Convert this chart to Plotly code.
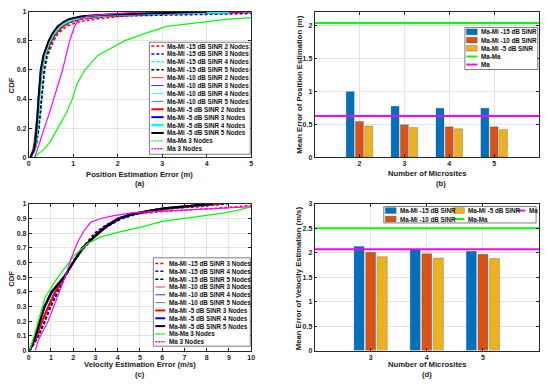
import plotly.graph_objects as go

W, H = 550, 386

# ---------------- (a) CDF of position estimation error ----------------
cdf_levels_a = [0, 0.05, 0.1, 0.2, 0.3, 0.4, 0.5, 0.6, 0.7, 0.8, 0.85, 0.9, 0.93, 0.95, 0.97, 0.98, 0.99, 1.0]
pos_m15_n2 = [0.05, 0.13, 0.17, 0.22, 0.26, 0.29, 0.32, 0.36, 0.43, 0.56, 0.66, 0.85, 1.1, 1.5, 2.1, 2.7, 3.8, 6.0]
pos_m15_n3 = [0.05, 0.13, 0.17, 0.22, 0.26, 0.29, 0.32, 0.36, 0.42, 0.54, 0.63, 0.78, 0.96, 1.2, 1.8, 3.5, 5.5, 7.0]
pos_m15_n4 = [0.05, 0.14, 0.18, 0.23, 0.26, 0.29, 0.32, 0.36, 0.42, 0.53, 0.62, 0.76, 0.92, 1.1, 1.6, 2.2, 3.3, 5.0]
pos_m15_n5 = [0.05, 0.14, 0.18, 0.23, 0.26, 0.29, 0.31, 0.35, 0.41, 0.52, 0.60, 0.74, 0.90, 1.05, 1.5, 2.1, 3.2, 4.8]
pos_m10_n2 = [0.05, 0.12, 0.15, 0.19, 0.22, 0.24, 0.27, 0.31, 0.38, 0.52, 0.62, 0.78, 0.95, 1.15, 1.7, 2.3, 3.4, 5.2]
pos_m10_n3 = [0.05, 0.12, 0.16, 0.19, 0.21, 0.24, 0.26, 0.30, 0.37, 0.50, 0.60, 0.74, 0.88, 1.05, 1.5, 2.0, 3.1, 4.6]
pos_m10_n4 = [0.05, 0.13, 0.16, 0.20, 0.22, 0.24, 0.27, 0.30, 0.37, 0.50, 0.59, 0.73, 0.87, 1.05, 1.45, 2.0, 3.0, 4.4]
pos_m10_n5 = [0.04, 0.12, 0.15, 0.19, 0.21, 0.23, 0.25, 0.29, 0.35, 0.47, 0.56, 0.70, 0.84, 0.98, 1.35, 1.9, 2.9, 4.3]
pos_m5_n2 = [0.04, 0.10, 0.13, 0.17, 0.20, 0.22, 0.25, 0.29, 0.36, 0.50, 0.60, 0.76, 0.90, 1.1, 1.6, 2.2, 3.2, 4.8]
pos_m5_n3 = [0.05, 0.12, 0.15, 0.185, 0.205, 0.225, 0.245, 0.28, 0.34, 0.46, 0.55, 0.68, 0.82, 0.95, 1.3, 1.8, 2.9, 4.2]
pos_m5_n4 = [0.05, 0.13, 0.16, 0.19, 0.21, 0.23, 0.25, 0.28, 0.35, 0.47, 0.56, 0.70, 0.85, 1.0, 1.4, 1.9, 3.0, 4.5]
pos_m5_n5 = [0.04, 0.12, 0.15, 0.18, 0.20, 0.22, 0.24, 0.27, 0.33, 0.45, 0.53, 0.65, 0.78, 0.90, 1.2, 1.7, 2.8, 4.0]
pos_mama_cdf = [0, 0.05, 0.1, 0.2, 0.3, 0.4, 0.5, 0.6, 0.7, 0.8, 0.85, 0.9, 0.93, 0.95, 0.96]
pos_mama_err = [0.12, 0.33, 0.47, 0.66, 0.84, 0.98, 1.08, 1.26, 1.55, 2.15, 2.6, 3.1, 3.95, 4.5, 5.0]
pos_ma_cdf = [0, 0.1, 0.2, 0.3, 0.4, 0.5, 0.6, 0.7, 0.8, 0.9, 0.95, 0.97, 0.98, 0.99, 1.0]
pos_ma_err = [0.14, 0.24, 0.35, 0.46, 0.56, 0.66, 0.76, 0.84, 0.92, 1.03, 1.14, 1.33, 1.6, 2.0, 2.6]

# ---------------- (b) mean position error ----------------
microsites_b = [2, 3, 4, 5]
pos_err_m15 = [0.99, 0.77, 0.74, 0.74]
pos_err_m10 = [0.54, 0.49, 0.46, 0.46]
pos_err_m5 = [0.47, 0.45, 0.43, 0.42]
pos_err_mama = 2.03
pos_err_ma = 0.625

# ---------------- (c) CDF of velocity estimation error ----------------
cdf_levels_c = [0, 0.1, 0.2, 0.3, 0.4, 0.5, 0.6, 0.7, 0.8, 0.85, 0.9, 0.93, 0.95, 0.97, 0.98, 0.99, 1.0]
vel_m15_n3 = [0.05, 0.42, 0.70, 0.95, 1.28, 1.60, 1.95, 2.40, 2.95, 3.40, 4.0, 4.7, 6.2, 8.5, 9.4, 10.2, 11.0]
vel_m15_n4 = [0.05, 0.45, 0.74, 1.00, 1.32, 1.63, 2.00, 2.50, 3.10, 3.60, 4.2, 4.9, 5.6, 6.6, 7.6, 8.4, 9.0]
vel_m15_n5 = [0.05, 0.44, 0.72, 0.98, 1.30, 1.62, 1.98, 2.45, 3.00, 3.45, 4.0, 4.6, 5.3, 6.1, 6.9, 7.6, 8.1]
vel_m10_n3 = [0.05, 0.38, 0.62, 0.90, 1.20, 1.60, 1.98, 2.45, 3.05, 3.45, 4.0, 4.8, 5.6, 6.5, 7.3, 8.0, 8.8]
vel_m10_n4 = [0.05, 0.36, 0.58, 0.85, 1.15, 1.58, 1.98, 2.45, 3.05, 3.45, 4.0, 4.7, 5.4, 6.3, 7.1, 7.9, 8.6]
vel_m10_n5 = [0.05, 0.32, 0.52, 0.75, 1.08, 1.58, 1.98, 2.40, 3.10, 3.50, 4.0, 4.6, 5.3, 6.2, 7.0, 7.8, 8.4]
vel_m5_n3 = [0.05, 0.36, 0.60, 0.88, 1.20, 1.60, 2.00, 2.45, 3.10, 3.50, 4.0, 4.7, 5.4, 6.4, 7.2, 8.0, 8.6]
vel_m5_n4 = [0.05, 0.31, 0.50, 0.72, 1.05, 1.58, 2.00, 2.42, 3.10, 3.50, 4.05, 4.6, 5.3, 6.1, 6.9, 7.7, 8.3]
vel_m5_n5 = [0.05, 0.30, 0.50, 0.70, 1.02, 1.58, 2.00, 2.40, 3.15, 3.55, 4.1, 4.7, 5.3, 6.1, 6.8, 7.5, 8.2]
vel_mama_cdf = [0, 0.1, 0.2, 0.36, 0.47, 0.56, 0.65, 0.73, 0.775, 0.81, 0.84, 0.88, 0.9, 0.92, 0.94, 0.96, 0.98]
vel_mama_err = [0.05, 0.25, 0.43, 0.73, 1.17, 1.61, 2.06, 2.65, 3.24, 4.13, 5.0, 6.0, 7.0, 8.0, 8.9, 9.5, 10.0]
vel_ma_cdf = [0, 0.07, 0.2, 0.38, 0.49, 0.63, 0.74, 0.82, 0.876, 0.9, 0.92, 0.94, 0.95, 0.96, 0.97, 0.98]
vel_ma_err = [0.3, 0.43, 0.87, 1.32, 1.61, 1.91, 2.2, 2.5, 2.8, 3.24, 3.84, 4.7, 5.9, 7.2, 8.6, 10.0]

# ---------------- (d) mean velocity error ----------------
microsites_d = [3, 4, 5]
vel_err_m15 = [2.13, 2.06, 2.03]
vel_err_m10 = [2.01, 1.98, 1.97]
vel_err_m5 = [1.92, 1.89, 1.88]
vel_err_mama = 2.5
vel_err_ma = 2.07

# ---------------- styling ----------------
FONT = "Liberation Sans"
AX = "#262626"
GRID = "#e3e3e3"
C_BLUE, C_ORANGE, C_YELLOW = "#0072BD", "#D95319", "#EDB120"
C_GREEN, C_MAG = "#00FF00", "#FF00FF"

def fx(p):
    return p / W

def fy(p):
    return 1 - p / H

STY = {
    "m15": dict(width=1.5, dash="3px,2px"),
    "m10": dict(width=0.8, dash="solid"),
    "m5": dict(width=2.0, dash="solid"),
}
NODE_COL = {2: "#FF0000", 3: "#0000FF", 4: "#00FFFF", 5: "#000000"}

fig = go.Figure()

def cdf_trace(x, y, color, width, dash, xa, ya):
    fig.add_trace(go.Scatter(x=x, y=y, mode="lines", xaxis=xa, yaxis=ya,
                             line=dict(color=color, width=width, dash=dash),
                             showlegend=False, hoverinfo="skip"))

legend_a = []
series_a = [("m15", 2, pos_m15_n2), ("m15", 3, pos_m15_n3), ("m15", 4, pos_m15_n4), ("m15", 5, pos_m15_n5),
            ("m10", 2, pos_m10_n2), ("m10", 3, pos_m10_n3), ("m10", 4, pos_m10_n4), ("m10", 5, pos_m10_n5),
            ("m5", 2, pos_m5_n2), ("m5", 3, pos_m5_n3), ("m5", 4, pos_m5_n4), ("m5", 5, pos_m5_n5)]
LBL = {"m15": "-15", "m10": "-10", "m5": "-5"}

def style_for(grp, n):
    col = NODE_COL[n]
    s = dict(STY[grp])
    if grp == "m10" and n == 5:
        col = "#555555"
    if grp == "m5" and n == 4:
        s["width"] = 2.6
    return col, s

for grp, n, xs in series_a:
    col, s = style_for(grp, n)
    cdf_trace(xs, cdf_levels_a, col, s["width"], s["dash"], "x", "y")
    legend_a.append(("Ma-Mi %s dB SINR %d Nodes" % (LBL[grp], n), col, s["width"], s["dash"]))
cdf_trace(pos_mama_err, pos_mama_cdf, C_GREEN, 1.2, "solid", "x", "y")
cdf_trace(pos_ma_err, pos_ma_cdf, C_MAG, 1.2, "solid", "x", "y")
legend_a += [("Ma-Ma 3 Nodes", C_GREEN, 1.4, "2px,1px"), ("Ma 3 Nodes", C_MAG, 1.4, "2px,1px")]

legend_c = []
series_c = [("m15", 3, vel_m15_n3), ("m15", 4, vel_m15_n4), ("m15", 5, vel_m15_n5),
            ("m10", 3, vel_m10_n3), ("m10", 4, vel_m10_n4), ("m10", 5, vel_m10_n5),
            ("m5", 3, vel_m5_n3), ("m5", 4, vel_m5_n4), ("m5", 5, vel_m5_n5)]
for grp, n, xs in series_c:
    col = {3: "#FF0000", 4: "#0000FF", 5: "#000000"}[n]
    if grp == "m10" and n == 5:
        col = "#555555"
    s = STY[grp]
    cdf_trace(xs, cdf_levels_c, col, s["width"], s["dash"], "x3", "y3")
    legend_c.append(("Ma-Mi %s dB SINR %d Nodes" % (LBL[grp], n), col, s["width"], s["dash"]))
cdf_trace(vel_mama_err, vel_mama_cdf, C_GREEN, 1.2, "solid", "x3", "y3")
cdf_trace(vel_ma_err, vel_ma_cdf, C_MAG, 1.2, "solid", "x3", "y3")
legend_c += [("Ma-Ma 3 Nodes", C_GREEN, 1.4, "2px,1px"), ("Ma 3 Nodes", C_MAG, 1.4, "2px,1px")]

# bars
def bars(xs, ys, col, xa, ya):
    fig.add_trace(go.Bar(x=xs, y=ys, xaxis=xa, yaxis=ya, marker=dict(color=col, line=dict(color="rgba(60,60,60,0.45)", width=0.6)),
                         showlegend=False, hoverinfo="skip"))

bars(microsites_b, pos_err_m15, C_BLUE, "x2", "y2")
bars(microsites_b, pos_err_m10, C_ORANGE, "x2", "y2")
bars(microsites_b, pos_err_m5, C_YELLOW, "x2", "y2")
bars(microsites_d, vel_err_m15, C_BLUE, "x4", "y4")
bars(microsites_d, vel_err_m10, C_ORANGE, "x4", "y4")
bars(microsites_d, vel_err_m5, C_YELLOW, "x4", "y4")

XR_B = [1, 6]
XR_D = [2, 6]
for v, col, xa, ya, xr in [(pos_err_mama, C_GREEN, "x2", "y2", XR_B), (pos_err_ma, C_MAG, "x2", "y2", XR_B),
                           (vel_err_mama, C_GREEN, "x4", "y4", XR_D), (vel_err_ma, C_MAG, "x4", "y4", XR_D)]:
    fig.add_trace(go.Scatter(x=xr, y=[v, v], mode="lines", xaxis=xa, yaxis=ya,
                             line=dict(color=col, width=2), showlegend=False, hoverinfo="skip"))

# axes
tickfont = dict(family=FONT, size=7.0, color=AX, weight="bold")

def axis(dom, rng, tickvals, anchor, ticktext=None):
    d = dict(domain=dom, range=rng, tickvals=tickvals, anchor=anchor, showline=True, linecolor=AX, linewidth=0.7,
             mirror="ticks", ticks="inside", ticklen=3, tickwidth=0.6, tickcolor=AX, showgrid=True,
             gridcolor=GRID, gridwidth=0.6, zeroline=False, tickfont=tickfont, fixedrange=True)
    if ticktext is not None:
        d["ticktext"] = ticktext
    return d

XL = [fx(27), fx(252)]
XRt = [fx(316), fx(543)]
YT = [fy(156), fy(8)]
YB = [fy(353), fy(203.5)]

fig.update_layout(
    xaxis=axis(XL, [0, 5], [0, 1, 2, 3, 4, 5], "y"),
    yaxis=axis(YT, [0, 1], [0, 0.2, 0.4, 0.6, 0.8, 1], "x", ["0", "0.2", "0.4", "0.6", "0.8", "1"]),
    xaxis2=axis(XRt, XR_B, microsites_b, "y2"),
    yaxis2=axis(YT, [0, 2.2], [0, 0.5, 1, 1.5, 2], "x2", ["0", "0.5", "1", "1.5", "2"]),
    xaxis3=axis(XL, [0, 10], list(range(11)), "y3"),
    yaxis3=axis(YB, [0, 1], [i / 10 for i in range(11)], "x3",
                ["0", "0.1", "0.2", "0.3", "0.4", "0.5", "0.6", "0.7", "0.8", "0.9", "1"]),
    xaxis4=axis(XRt, XR_D, microsites_d, "y4"),
    yaxis4=axis(YB, [0, 3], [0, 0.5, 1, 1.5, 2, 2.5, 3], "x4", ["0", "0.5", "1", "1.5", "2", "2.5", "3"]),
    barmode="group", bargap=0.38, bargroupgap=0.14,
    width=W, height=H, margin=dict(l=0, r=0, t=0, b=0),
    paper_bgcolor="white", plot_bgcolor="white", showlegend=False,
)

shapes = []
annots = []
LF = dict(family=FONT, size=6.3, color="#111111", weight="bold")
TF = dict(family=FONT, size=7.7, color="#222222", weight="bold")

def text(x, y, s, font, angle=0, xanchor="center"):
    annots.append(dict(x=fx(x), y=fy(y), xref="paper", yref="paper", text=s, showarrow=False,
                       font=font, textangle=angle, xanchor=xanchor, yanchor="middle"))

def box(x0, y0, x1, y1):
    shapes.append(dict(type="rect", xref="paper", yref="paper", x0=fx(x0), x1=fx(x1), y0=fy(y1), y1=fy(y0),
                       fillcolor="white", line=dict(color=AX, width=0.6), layer="above"))

def line_sample(x0, x1, y, col, width, dash):
    shapes.append(dict(type="line", xref="paper", yref="paper", x0=fx(x0), x1=fx(x1), y0=fy(y), y1=fy(y),
                       line=dict(color=col, width=width, dash=dash), layer="above"))

def patch_sample(x0, x1, y, col):
    shapes.append(dict(type="rect", xref="paper", yref="paper", x0=fx(x0), x1=fx(x1), y0=fy(y + 3), y1=fy(y - 3),
                       fillcolor=col, line=dict(color="rgba(60,60,60,0.5)", width=0.5), layer="above"))

# legend (a)
box(149, 39, 251, 153)
for i, (lab, col, w, dsh) in enumerate(legend_a):
    yy = 42.8 + i * 8.05
    line_sample(151, 163.5, yy, col, w, dsh)
    text(165, yy, lab, LF, xanchor="left")

# legend (c)
box(153, 258.5, 251, 348.5)
for i, (lab, col, w, dsh) in enumerate(legend_c):
    yy = 264.3 + i * 7.97
    line_sample(155, 165, yy, col, w, dsh)
    text(166.5, yy, lab, LF, xanchor="left")

# legend (b)
box(468, 24, 541.7, 66.7)
for i, (lab, col) in enumerate([("Ma-Mi -15 dB SINR", C_BLUE), ("Ma-Mi -10 dB SINR", C_ORANGE), ("Ma-Mi -5 dB SINR", C_YELLOW)]):
    yy = 28.4 + i * 8.35
    patch_sample(469.5, 480.5, yy, col)
    text(482, yy, lab, LF, xanchor="left")
for i, (lab, col) in enumerate([("Ma-Ma", C_GREEN), ("Ma", C_MAG)]):
    yy = 53.5 + i * 8.2
    line_sample(469.5, 480.5, yy, col, 2, "solid")
    text(482, yy, lab, LF, xanchor="left")

# legend (d)
box(386, 206.3, 540, 223)
patch_sample(387.5, 398.5, 210.4, C_BLUE); text(400, 210.4, "Ma-Mi -15 dB SINR", LF, xanchor="left")
patch_sample(387.5, 398.5, 219.0, C_ORANGE); text(400, 219.0, "Ma-Mi -10 dB SINR", LF, xanchor="left")
patch_sample(456.5, 467.5, 210.4, C_YELLOW); text(469, 210.4, "Ma-Mi -5 dB SINR", LF, xanchor="left")
line_sample(456.5, 467.5, 219.0, C_GREEN, 2, "solid"); text(469, 219.0, "Ma-Ma", LF, xanchor="left")
line_sample(521, 529, 210.4, C_MAG, 2, "solid"); text(530.5, 210.4, "Ma", LF, xanchor="left")

# axis titles and captions
text(139.5, 173.3, "Position Estimation Error (m)", TF)
text(139.5, 183.3, "(a)", TF)
text(10, 83, "CDF", TF, angle=-90)
text(430, 173.0, "Number of Microsites", TF)
text(444, 183.0, "(b)", TF)
text(300.5, 82, "Mean Error of Position Estimation (m)", TF, angle=-90)
text(139.5, 367.6, "Velocity Estimation Error (m/s)", TF)
text(139.5, 377.0, "(c)", TF)
text(10, 280, "CDF", TF, angle=-90)
text(430, 367.6, "Number of Microsites", TF)
text(430, 377.0, "(d)", TF)
text(300.5, 279, "Mean Error of Velocity Estimation (m/s)", TF, angle=-90)

fig.update_layout(shapes=shapes, annotations=annots)
fig.write_html("out.html", include_plotlyjs=True, config={"displayModeBar": False},
               post_script="document.body.style.margin='0';document.body.style.padding='0';")
